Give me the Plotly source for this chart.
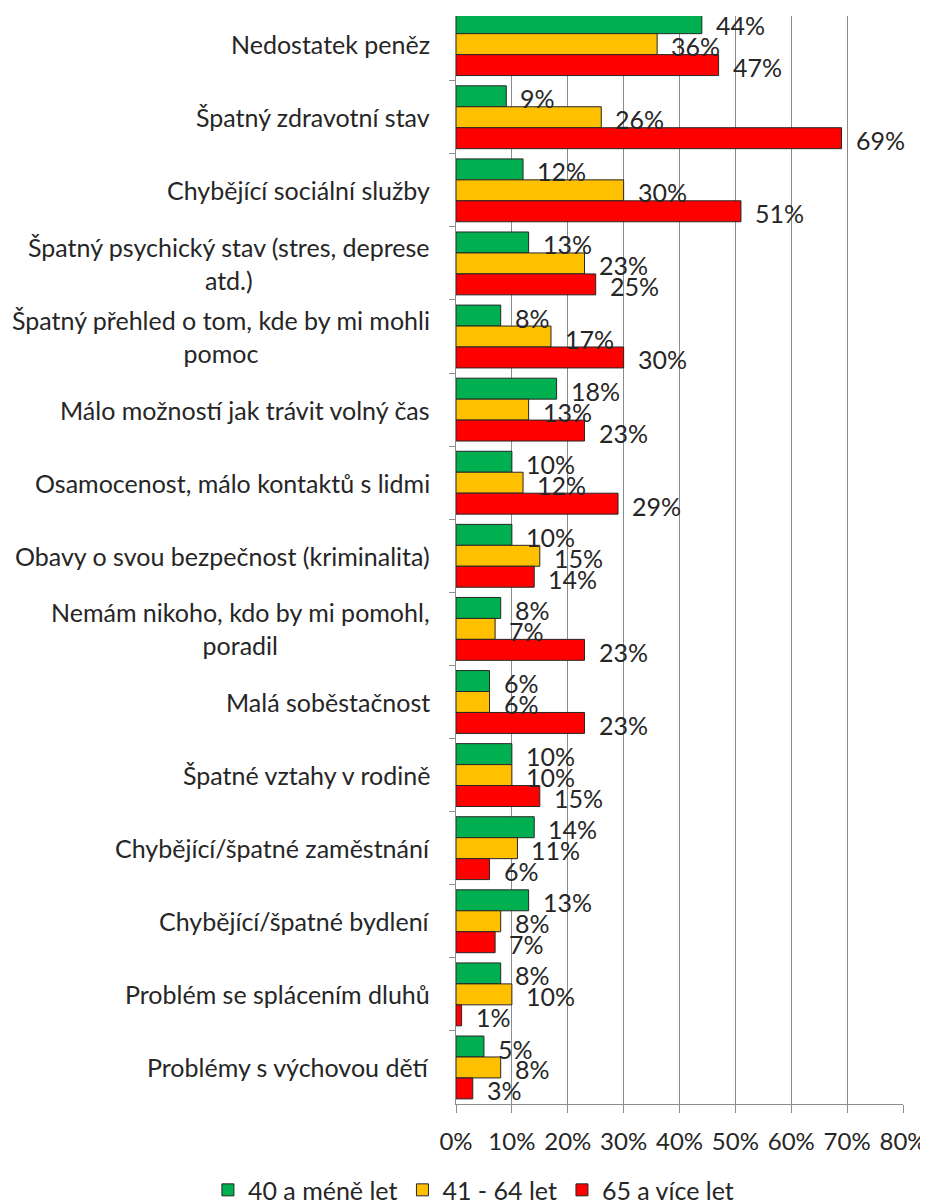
import plotly.graph_objects as go

categories = [
    "Nedostatek peněz",
    "Špatný zdravotní stav",
    "Chybějící sociální služby",
    "Špatný psychický stav (stres, deprese<br>atd.)",
    "Špatný přehled o tom, kde by mi mohli<br>pomoc",
    "Málo možností jak trávit volný čas",
    "Osamocenost, málo kontaktů s lidmi",
    "Obavy o svou bezpečnost (kriminalita)",
    "Nemám nikoho, kdo by mi pomohl,<br>poradil",
    "Malá soběstačnost",
    "Špatné vztahy v rodině",
    "Chybějící/špatné zaměstnání",
    "Chybějící/špatné bydlení",
    "Problém se splácením dluhů",
    "Problémy s výchovou dětí",
]
series_names = ["40 a méně let", "41 - 64 let", "65 a více let"]
young = [44, 9, 12, 13, 8, 18, 10, 10, 8, 6, 10, 14, 13, 8, 5]
middle = [36, 26, 30, 23, 17, 13, 12, 15, 7, 6, 10, 11, 8, 10, 8]
old = [47, 69, 51, 25, 30, 23, 29, 14, 23, 23, 15, 6, 7, 1, 3]
colors = ["#00B050", "#FFC000", "#FF0000"]
x_ticks = [0, 10, 20, 30, 40, 50, 60, 70, 80]
x_ticklabels = [f"{v}%" for v in x_ticks]

FONT = "Lato"
TXT = "#262626"
FS = 25
BARGAP = 0.14

# page body adds 8px margin; figure sized to compensate
W, H = 920, 1195
M = dict(l=448, r=25, t=8, b=99, autoexpand=False)
Y_TOP = -0.385                      # top of the visible category range (chart is cut at the top)
Y_BOTTOM = len(categories) - 0.5
px_per_cat = (H - M["t"] - M["b"]) / (Y_BOTTOM - Y_TOP)

all_series = [young, middle, old]
fig = go.Figure()
for name, vals, col in zip(series_names, all_series, colors):
    fig.add_trace(go.Bar(
        y=categories, x=vals, name=name, orientation="h",
        marker=dict(color=col, line=dict(color="#262626", width=1)),
    ))

# data labels: value on x, category slot on y
n = len(all_series)
slot = (1 - BARGAP) / n
for k, vals in enumerate(all_series):
    for i, v in enumerate(vals):
        yy = i + (k - (n - 1) / 2) * slot
        yc = max(yy, Y_TOP)  # keep anchor inside the axis range, shift the text instead
        fig.add_annotation(
            x=v, y=yc, xref="x", yref="y",
            xanchor="left", yanchor="middle", xshift=12,
            yshift=-2 + (yc - yy) * px_per_cat,
            text=f"{v}%", showarrow=False,
            font=dict(family=FONT, size=FS, color=TXT),
        )

# category labels (centered multi-line like the original)
for c in categories:
    fig.add_annotation(
        x=0, y=c, xref="paper", yref="y", xanchor="right", yanchor="middle",
        xshift=-24, text=c, showarrow=False, align="center",
        font=dict(family=FONT, size=FS, color=TXT),
    )

fig.update_layout(
    width=W, height=H,
    barmode="group", bargap=BARGAP, bargroupgap=0,
    plot_bgcolor="white", paper_bgcolor="white",
    margin=M,
    font=dict(family=FONT, size=FS, color=TXT),
    legend=dict(orientation="h", xref="paper", x=-0.555, xanchor="left",
                yref="paper", y=-0.058, yanchor="top",
                font=dict(family=FONT, size=25, color=TXT), traceorder="normal",
                itemwidth=30),
)
fig.update_xaxes(
    range=[0, 80], tickvals=x_ticks, ticktext=x_ticklabels,
    showgrid=True, gridcolor="#8c8c8c", gridwidth=1,
    showline=True, linecolor="#8c8c8c", ticks="outside", ticklen=8, tickcolor="#8c8c8c",
    ticklabelstandoff=8, automargin=False,
    zeroline=False, tickfont=dict(family=FONT, size=24, color=TXT),
)
fig.update_yaxes(
    range=[Y_BOTTOM, Y_TOP], showticklabels=False, showline=True,
    linecolor="#8c8c8c", ticks="outside", tickson="boundaries", ticklen=6,
    tickcolor="#8c8c8c", showgrid=False, automargin=False,
)
fig.write_html("out.html")
